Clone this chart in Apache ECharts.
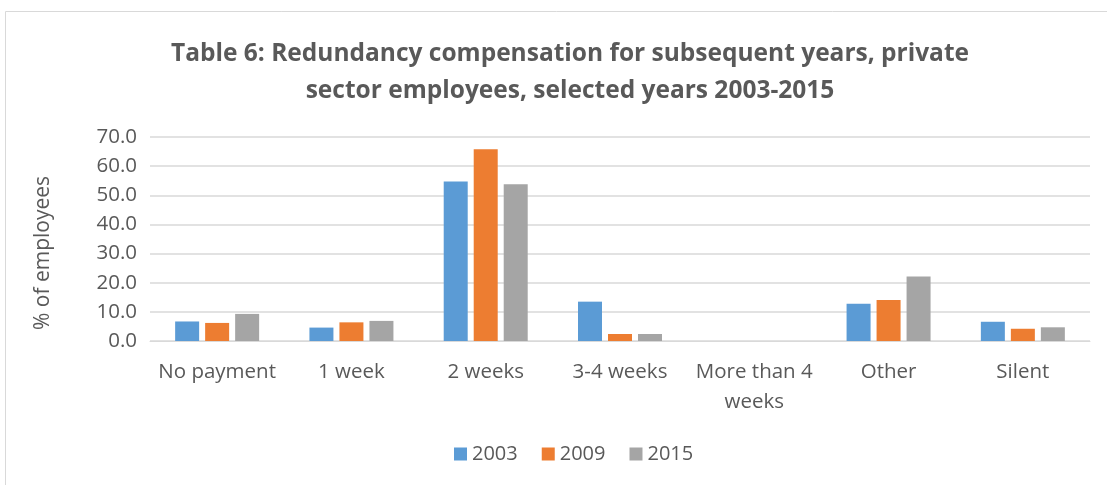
<!DOCTYPE html>
<html>
<head>
<meta charset="utf-8">
<script src="https://cdn.jsdelivr.net/npm/echarts@6/dist/echarts.min.js"></script>
<style>
html,body{margin:0;padding:0;background:#fff;}
#chart{width:1107px;height:485px;}
</style>
</head>
<body>
<div id="chart"></div>
<script>
var categories=['No payment','1 week','2 weeks','3-4 weeks','More than 4\nweeks','Other','Silent'];
var years=['2003','2009','2015'];
var v2003=[6.7,4.6,54.7,13.5,0,12.8,6.6];
var v2009=[6.2,6.4,65.8,2.4,0,14.1,4.2];
var v2015=[9.3,6.9,53.8,2.4,0,22.1,4.7];
var colors=['#5B9BD5','#ED7D31','#A5A5A5'];

var chart=echarts.init(document.getElementById('chart'));
var font='"Open Sans", "Liberation Sans", sans-serif';

function bar(name,data,i){
	return {
		name:name,
		type:'bar',
		data:data,
		barWidth:24,
		barGap:'25%',
		itemStyle:{color:colors[i]}
	};
}

var option={
	animation:false,
	graphic:[{
		type:'rect',
		shape:{x:5.5,y:11.5,width:1200,height:600},
		style:{fill:null,stroke:'#D9D9D9',lineWidth:1},
		silent:true
	}],
	title:{
		text:'Table 6: Redundancy compensation for subsequent years, private\nsector employees, selected years 2003-2015',
		left:565,
		textAlign:'center',
		top:31,
		textStyle:{fontFamily:font,fontSize:24.5,fontWeight:'bold',color:'#595959',lineHeight:37}
	},
	legend:{
		data:years,
		bottom:16,
		left:449,
		itemWidth:13,
		itemHeight:13,
		itemGap:24,
		icon:'rect',
		textStyle:{fontFamily:font,fontSize:20,color:'#595959'}
	},
	grid:{left:150,right:17,top:137,bottom:144},
	xAxis:{
		type:'category',
		data:categories,
		axisTick:{show:false},
		axisLine:{lineStyle:{color:'#D9D9D9',width:1}},
		axisLabel:{fontFamily:font,fontSize:20.5,color:'#595959',margin:16,lineHeight:30,interval:0}
	},
	yAxis:{
		type:'value',
		min:0,max:70,interval:10,
		name:'% of employees',
		nameLocation:'middle',
		nameGap:96,
		nameTextStyle:{fontFamily:font,fontSize:21,color:'#595959',padding:[0,28,0,0]},
		axisLine:{show:false},
		axisTick:{show:false},
		splitLine:{lineStyle:{color:'#D9D9D9',width:1.5}},
		axisLabel:{fontFamily:font,fontSize:20.5,color:'#595959',margin:13,
			formatter:function(v){return v.toFixed(1);}}
	},
	series:[bar(years[0],v2003,0),bar(years[1],v2009,1),bar(years[2],v2015,2)]
};
chart.setOption(option);
</script>
</body>
</html>
